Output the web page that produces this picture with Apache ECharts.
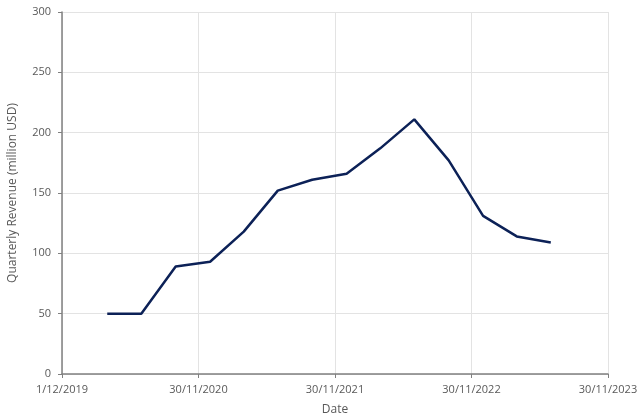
<!DOCTYPE html>
<html><head><meta charset="utf-8">
<script src="https://cdn.jsdelivr.net/npm/echarts@6/dist/echarts.min.js"></script>
<style>html,body{margin:0;padding:0;background:#fff}#c{width:640px;height:418px}</style>
</head><body><div id="c"></div>
<script>
// quarter-end dates (d/m/yyyy) and quarterly revenue (million USD)
var dates = ["31/3/2020","30/6/2020","30/9/2020","31/12/2020","31/3/2021","30/6/2021","30/9/2021","31/12/2021","31/3/2022","30/6/2022","30/9/2022","31/12/2022","31/3/2023","30/6/2023"];
var revenue = [50, 50, 89, 93, 118, 152, 161, 166, 187, 211, 177, 131, 114, 109];
var xTickStart = "1/12/2019";
var xTickEnd = "30/11/2023";
var xTickStepDays = 365;
var yTicks = [0, 50, 100, 150, 200, 250, 300];

function parseDMY(s){var p=s.split('/');return Date.UTC(+p[2],+p[1]-1,+p[0]);}
var DAY=86400000;
var base=parseDMY(xTickStart);
function toDays(s){return Math.round((parseDMY(s)-base)/DAY);}
function fmt(v){var d=new Date(base+v*DAY);return d.getUTCDate()+'/'+(d.getUTCMonth()+1)+'/'+d.getUTCFullYear();}

var data = dates.map(function(d,i){return [toDays(d), revenue[i]];});
var font = "'Open Sans', sans-serif";
var chart = echarts.init(document.getElementById('c'), null, {renderer:'canvas'});
chart.setOption({
  animation:false,
  grid:{left:62,right:32,top:12,bottom:44,containLabel:false,outerBoundsMode:'none'},
  xAxis:{
    type:'value', min:0, max:toDays(xTickEnd), interval:xTickStepDays,
    name:'Date', nameLocation:'middle', nameGap:30,
    nameTextStyle:{color:'#595959',fontSize:12,fontFamily:font},
    axisLine:{show:true,lineStyle:{color:'#808080',width:1.5}},
    axisTick:{show:true,length:4,lineStyle:{color:'#808080'}},
    axisLabel:{color:'#595959',fontSize:11,fontFamily:font,margin:10,formatter:fmt,showMinLabel:true,showMaxLabel:true},
    splitLine:{show:true,lineStyle:{color:'#e3e3e3',width:1}}
  },
  yAxis:{
    type:'value', min:yTicks[0], max:yTicks[yTicks.length-1], interval:yTicks[1]-yTicks[0],
    name:'Quarterly Revenue (million USD)', nameLocation:'middle', nameGap:43,
    nameTextStyle:{color:'#595959',fontSize:12,fontFamily:font},
    axisLine:{show:true,lineStyle:{color:'#808080',width:1.5}},
    axisTick:{show:true,length:4,lineStyle:{color:'#808080'}},
    axisLabel:{color:'#595959',fontSize:11,fontFamily:font,margin:11},
    splitLine:{show:true,lineStyle:{color:'#e3e3e3',width:1}}
  },
  series:[{
    type:'line', data:data, showSymbol:false, symbol:'none',
    lineStyle:{color:'#0c2157',width:2.5}
  }]
});
</script></body></html>
